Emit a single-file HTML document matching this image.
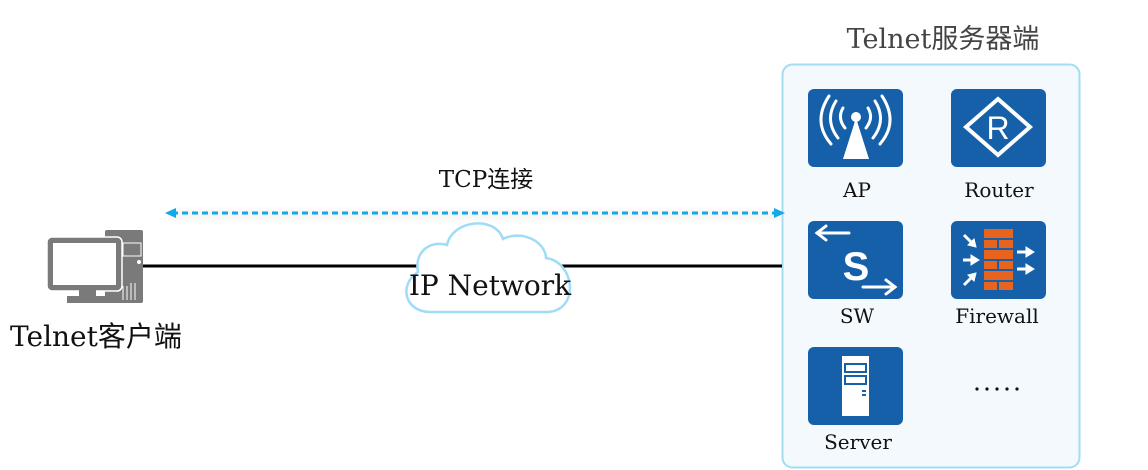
<!DOCTYPE html>
<html><head><meta charset="utf-8"><style>
html,body{margin:0;padding:0;background:#fff;width:1148px;height:470px;overflow:hidden}
text{font-family:"DejaVu Serif","Liberation Serif","Noto Serif CJK SC",serif}
</style></head><body>
<svg width="1148" height="470" viewBox="0 0 1148 470" xmlns="http://www.w3.org/2000/svg">
<defs>
<filter id="sh" x="-5%" y="-200%" width="110%" height="500%"><feGaussianBlur stdDeviation="3"/></filter>
</defs>
<rect x="782.5" y="64.5" width="297" height="403" rx="10" fill="#f3f9fd" stroke="#a3dcf5" stroke-width="2"/>
<text x="943" y="48" font-size="27" fill="#444" text-anchor="middle">Telnet<tspan font-family="Noto Sans CJK SC,sans-serif">服务器端</tspan></text>

<rect x="170" y="210" width="610" height="10" fill="#eee" filter="url(#sh)" opacity="0.6"/>
<line x1="172" y1="213" x2="776" y2="213" stroke="#12a8ec" stroke-width="3" stroke-dasharray="6,4"/>
<polygon points="165,213 176,208 176,218" fill="#12a8ec"/>
<polygon points="785,213 774,208 774,218" fill="#12a8ec"/>
<text x="486" y="187" font-size="23" text-anchor="middle" fill="#111">TCP<tspan font-family="Noto Sans CJK SC,sans-serif">连接</tspan></text>

<line x1="143" y1="266" x2="782" y2="266" stroke="#000" stroke-width="3"/>

<path d="M430,312 C405,312 398,285 418,272 C414,252 430,240 447,245 C452,220 495,215 503,239 C520,230 545,240 546,258 C575,262 580,310 548,312 Z" fill="#fff" stroke="#9fdcf6" stroke-width="2.5"/>
<text x="490" y="295" font-size="28" text-anchor="middle" fill="#111">IP Network</text>

<rect x="105" y="230" width="38" height="73" rx="2" fill="#7a7a7a"/>
<rect x="123" y="243" width="18" height="13" fill="none" stroke="#fff" stroke-width="1"/>
<circle cx="139" cy="262" r="2" fill="#fff"/>
<g stroke="#fff" stroke-width="1"><line x1="123" y1="286" x2="123" y2="300"/><line x1="127" y1="286" x2="127" y2="300"/><line x1="131" y1="283" x2="131" y2="300"/><line x1="135" y1="283" x2="135" y2="300"/></g>
<rect x="47" y="237" width="75" height="54" rx="5" fill="#7a7a7a" stroke="#fff" stroke-width="1.5"/>
<rect x="53" y="243" width="63" height="42" fill="#fff"/>
<rect x="79" y="290" width="17" height="7" fill="#7a7a7a"/>
<rect x="67" y="296" width="39" height="7" fill="#7a7a7a"/>
<text x="10" y="346" font-size="28" fill="#111">Telnet<tspan font-family="Noto Sans CJK SC,sans-serif">客户端</tspan></text>

<rect x="808" y="89" width="95" height="78" rx="6" fill="#1560a8"/>
<g fill="none" stroke="#fff" stroke-width="3" stroke-linecap="round">
<path d="M829,96 Q812,122 831,144"/><path d="M882,96 Q899,122 880,144"/>
<path d="M836,101 Q824,120 838,138"/><path d="M875,101 Q887,120 873,138"/>
<path d="M843,108 Q837,118 845,128"/><path d="M868,108 Q874,118 866,128"/>
</g>
<circle cx="856" cy="117" r="5" fill="#fff"/>
<polygon points="856,118 843,159 869,159" fill="#fff"/>
<text x="857" y="197" font-size="20" text-anchor="middle" fill="#111">AP</text>

<rect x="951" y="89" width="95" height="78" rx="6" fill="#1560a8"/>
<polygon points="998,99 1030,127 998,155 966,127" fill="none" stroke="#fff" stroke-width="4"/>
<text x="998" y="139" font-size="32" text-anchor="middle" fill="#fff" style="font-family:'Liberation Sans',sans-serif">R</text>
<text x="999" y="197" font-size="20" text-anchor="middle" fill="#111">Router</text>

<rect x="808" y="221" width="95" height="78" rx="6" fill="#1560a8"/>
<g stroke="#fff" stroke-width="3" fill="none" stroke-linecap="round">
<line x1="817" y1="233" x2="849" y2="233"/><polyline points="826,226 817,233 826,240"/>
<line x1="863" y1="287" x2="895" y2="287"/><polyline points="886,280 895,287 886,294"/>
</g>
<text x="856" y="280" font-size="40" font-weight="bold" text-anchor="middle" fill="#fff" style="font-family:'Liberation Sans',sans-serif">S</text>
<text x="857" y="323" font-size="20" text-anchor="middle" fill="#111">SW</text>

<rect x="951" y="221" width="95" height="78" rx="6" fill="#1560a8"/>
<g fill="#e8641e">
<rect x="984" y="229" width="29" height="9"/>
<rect x="984" y="240" width="13" height="8"/><rect x="999" y="240" width="14" height="8"/>
<rect x="984" y="250" width="29" height="9"/>
<rect x="984" y="261" width="13" height="8"/><rect x="999" y="261" width="14" height="8"/>
<rect x="984" y="271" width="29" height="9"/>
<rect x="984" y="282" width="13" height="8"/><rect x="999" y="282" width="14" height="8"/>
</g>
<g stroke="#fff" stroke-width="3" fill="#fff">
<line x1="964" y1="235" x2="972" y2="243"/><polygon points="976,247 968,245 974,239" stroke-width="1"/>
<line x1="963" y1="260" x2="972" y2="260"/><polygon points="979,260 971,255 971,265" stroke-width="1"/>
<line x1="964" y1="285" x2="972" y2="277"/><polygon points="976,273 968,275 974,281" stroke-width="1"/>
<line x1="1017" y1="252" x2="1027" y2="252"/><polygon points="1034,252 1026,247 1026,257" stroke-width="1"/>
<line x1="1017" y1="269" x2="1027" y2="269"/><polygon points="1034,269 1026,264 1026,274" stroke-width="1"/>
</g>
<text x="997" y="323" font-size="20" text-anchor="middle" fill="#111">Firewall</text>

<rect x="808" y="347" width="95" height="78" rx="6" fill="#1560a8"/>
<rect x="842" y="356" width="27" height="60" fill="#fff"/>
<rect x="845" y="364" width="21" height="8" fill="none" stroke="#1560a8" stroke-width="2"/>
<rect x="845" y="376" width="21" height="8" fill="none" stroke="#1560a8" stroke-width="2"/>
<rect x="862" y="390" width="4" height="2" fill="#1560a8"/><rect x="862" y="394" width="4" height="2" fill="#1560a8"/>
<text x="858" y="449" font-size="20" text-anchor="middle" fill="#111">Server</text>

<g fill="#111"><circle cx="977" cy="389" r="1.6"/><circle cx="987" cy="389" r="1.6"/><circle cx="997" cy="389" r="1.6"/><circle cx="1007" cy="389" r="1.6"/><circle cx="1017" cy="389" r="1.6"/></g>
</svg>
</body></html>
